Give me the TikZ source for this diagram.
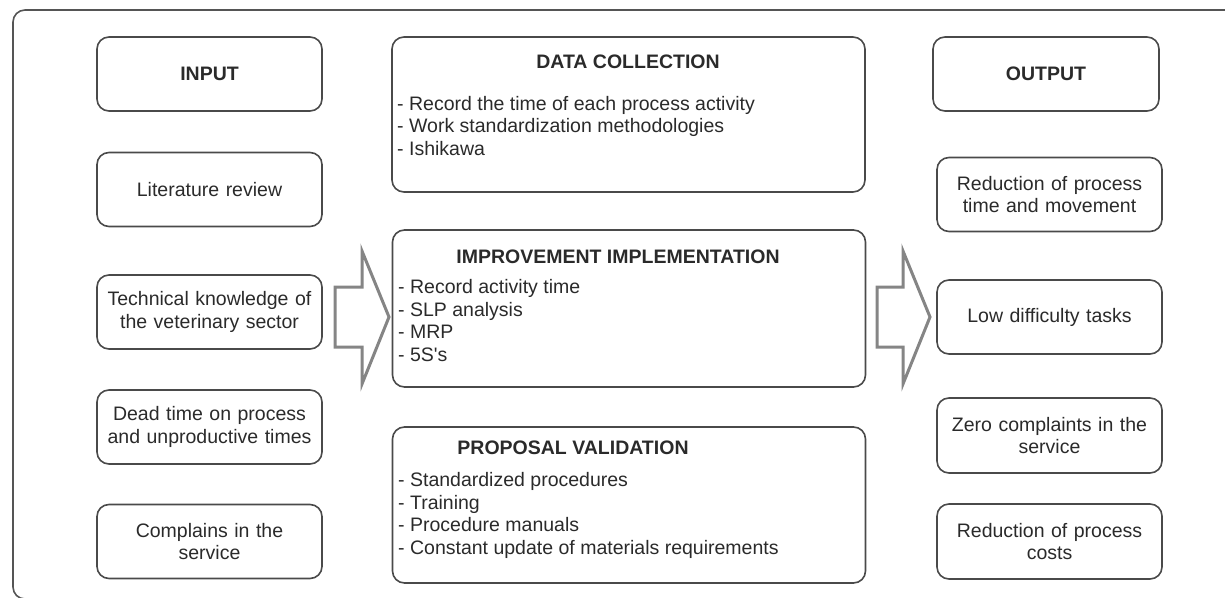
\documentclass[tikz,border=0pt]{standalone}
\usepackage{fontspec}
\setmainfont{Liberation Sans}
\definecolor{boxline}{HTML}{4A4A4A}
\definecolor{txt}{HTML}{2A2A2A}
\definecolor{arrowgray}{HTML}{858585}
\definecolor{framegray}{HTML}{555555}
\begin{document}
\begin{tikzpicture}[x=1pt,y=-1pt,
  every node/.style={font=\fontsize{19.5pt}{22.5pt}\selectfont, text=txt},
  box/.style={draw=boxline, line width=1.6pt, rounded corners=12pt, align=center, inner sep=2pt},
  sidebox/.style={box, minimum width=225pt, minimum height=74pt, text width=220pt},
  midbox/.style={box, minimum width=473pt},
  title/.style={font=\fontsize{19.5pt}{22.5pt}\selectfont\bfseries, inner sep=0pt},
  listtxt/.style={align=left, anchor=west, inner sep=0pt},
  bigarrow/.style={draw=arrowgray, line width=3pt, fill=white, line join=miter}
]
\useasboundingbox (0,0) rectangle (1225,597);
\begin{scope}
\clip (0,0) rectangle (1225,597);
\draw[framegray, line width=1.6pt, rounded corners=12pt] (13,10) rectangle (1260,599);
\end{scope}

% left column
\node[sidebox] (input) at (209.5,74) {\bfseries INPUT};
\node[sidebox] (lit) at (209.5,189.5) {Literature review};
\node[sidebox] (tech) at (209.5,312) {Technical knowledge of\\the veterinary sector};
\node[sidebox] (dead) at (209.5,427) {Dead time on process\\and unproductive times};
\node[sidebox] (compl) at (209.5,541.5) {Complains in the\\service};

% right column
\node[sidebox, minimum width=226pt] (output) at (1046,74) {\bfseries OUTPUT};
\node[sidebox] (redtime) at (1049.5,194.5) {Reduction of process\\time and movement};
\node[sidebox] (lowdiff) at (1049.5,317) {Low difficulty tasks};
\node[sidebox, minimum height=75pt] (zero) at (1049.5,435.5) {Zero complaints in the\\service};
\node[sidebox, minimum height=75pt] (redcost) at (1049.5,541.5) {Reduction of process\\costs};

% middle column
\node[midbox, minimum height=155pt] (data) at (628.5,114.5) {};
\node[title] (datat) at (628,62) {DATA COLLECTION};
\node[listtxt] (datal) at (397,126) {- Record the time of each process activity\\- Work standardization methodologies\\- Ishikawa};

\node[midbox, minimum height=157pt] (impr) at (629,308.5) {};
\node[title] (imprt) at (618,257) {IMPROVEMENT IMPLEMENTATION};
\node[listtxt] (imprl) at (398,320.5) {- Record activity time\\- SLP analysis\\- MRP\\- 5S\textquotesingle s};

\node[midbox, minimum height=156pt] (prop) at (629,505) {};
\node[title] (propt) at (573,448) {PROPOSAL VALIDATION};
\node[listtxt] (propl) at (398,515.5) {- Standardized procedures\\- Training\\- Procedure manuals\\- Constant update of materials requirements};

% block arrows
\draw[bigarrow] (335,287) -- (362,287) -- (362,251) -- (389,317) -- (362,384) -- (362,347) -- (335,347) -- cycle;
\draw[bigarrow] (877,287) -- (903,287) -- (903,251) -- (930,317) -- (903,384) -- (903,347) -- (877,347) -- cycle;
\end{tikzpicture}
\end{document}
